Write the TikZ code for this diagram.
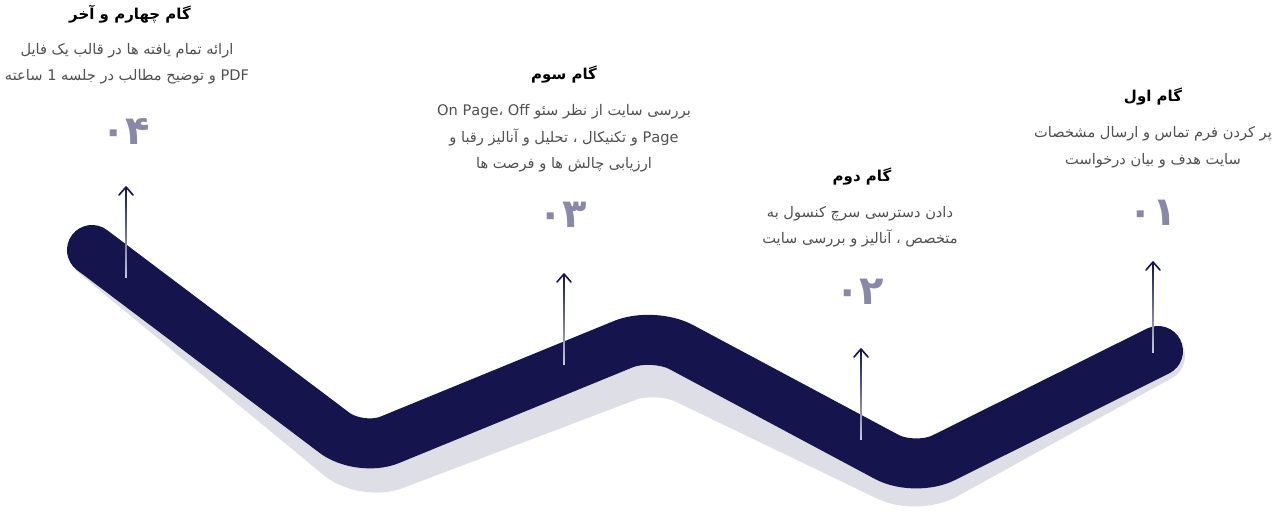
\documentclass[tikz,border=0pt]{standalone}
\usepackage{fontspec}
\TeXXeTstate=1
\newfontfamily\fa[Script=Arabic]{DejaVu Sans}
\usetikzlibrary{calc}
\definecolor{navy}{RGB}{21,20,77}
\definecolor{shadowc}{RGB}{222,222,231}
\definecolor{numc}{RGB}{138,136,168}
\definecolor{bodyc}{RGB}{80,80,80}
\definecolor{arrowlow}{RGB}{200,200,218}
\begin{document}
\begin{tikzpicture}[x=1pt,y=-1pt,
  titletext/.style={font=\fa\bfseries\fontsize{15}{17}\selectfont, text=black, inner sep=0pt},
  bodytext/.style={font=\fa\fontsize{14.6}{26.5}\selectfont, text=bodyc, align=center, inner sep=0pt},
  numtext/.style={font=\fa\bfseries\fontsize{40}{40}\selectfont, text=numc, inner sep=0pt},
  band/.style={line width=50pt, line cap=round, line join=round, rounded corners=32pt},
  chevron/.style={navy, line width=1.6pt, line cap=round, line join=round}]
\fill[white] (0,0) rectangle (1280,514);
\useasboundingbox (0,0) rectangle (1280,514);
% path corners
\coordinate (A) at (92,250);
\coordinate (B) at (360,452);
\coordinate (C) at (653,332);
\coordinate (D) at (915,472);
\coordinate (E) at (1158,351);
% shadow corners
\coordinate (SA) at (95,254);
\coordinate (SB) at (364,476);
\coordinate (SC) at (657,365);
\coordinate (SD) at (917,490);
\coordinate (SE) at (1160,356);
\draw[band, shadowc] (SA) -- (SB) -- (SC) -- (SD) -- (SE);
\draw[band, navy] (A) -- (B) -- (C) -- (D) -- (E);
% arrows
\coordinate (t4) at (126,187); \coordinate (b4) at (126,277);
\coordinate (t3) at (564,274); \coordinate (b3) at (564,364);
\coordinate (t2) at (861,349); \coordinate (b2) at (861,439);
\coordinate (t1) at (1153,262); \coordinate (b1) at (1153,352);
\foreach \i in {1,2,3,4}{
  \shade[top color=navy, bottom color=arrowlow] ($(b\i)+(-0.8,0)$) rectangle ($(t\i)+(0.8,1)$);
  \draw[chevron] ($(t\i)+(-7,8)$) -- (t\i) -- ($(t\i)+(7,8)$);
}
% step 4
\node[titletext] (title4) at (130,14) {\beginR گام چهارم و آخر\endR};
\node[bodytext] (body4) at (127,63.5) {\beginR ارائه تمام یافته ها در قالب یک فایل\endR\\
  \beginR\beginL PDF\endL{} و توضیح مطالب در جلسه \beginL 1\endL{} ساعته\endR};
\node[numtext] (num4) at (126,132) {۰۴};
% step 3
\node[titletext] (title3) at (564,75) {\beginR گام سوم\endR};
\node[bodytext] (body3) at (564,138.5) {\beginR بررسی سایت از نظر سئو \beginL On Page، Off\endL\endR\\
  \beginR\beginL Page\endL{} و تکنیکال ، تحلیل و آنالیز رقبا و\endR\\
  \beginR ارزیابی چالش ها و فرصت ها\endR};
\node[numtext] (num3) at (563,215) {۰۳};
% step 2
\node[titletext] (title2) at (862,177) {\beginR گام دوم\endR};
\node[bodytext] (body2) at (860,226.5) {\beginR دادن دسترسی سرچ کنسول به\endR\\
  \beginR متخصص ، آنالیز و بررسی سایت\endR};
\node[numtext] (num2) at (860,292) {۰۲};
% step 1
\node[titletext] (title1) at (1153,97) {\beginR گام اول\endR};
\node[bodytext] (body1) at (1153,147) {\beginR پر کردن فرم تماس و ارسال مشخصات\endR\\
  \beginR سایت هدف و بیان درخواست\endR};
\node[numtext] (num1) at (1153,213) {۰۱};
\end{tikzpicture}
\end{document}
